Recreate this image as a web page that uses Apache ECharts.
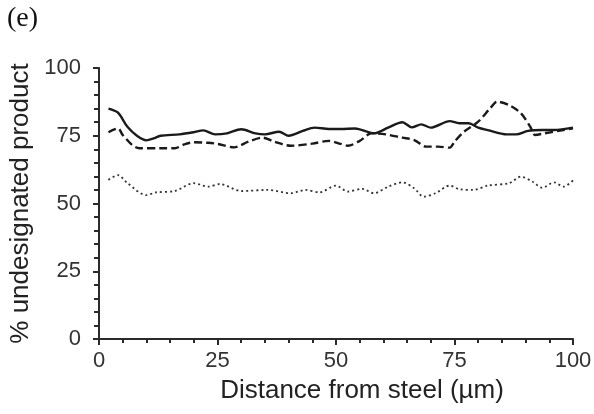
<!DOCTYPE html>
<html><head><meta charset="utf-8">
<script src="https://cdn.jsdelivr.net/npm/echarts@6/dist/echarts.min.js"></script>
<style>html,body{margin:0;padding:0;background:#fff}#c{width:594px;height:414px}</style>
</head><body><div id="c"></div>
<script>
const xTicks = [0, 25, 50, 75, 100];
const yTicks = [0, 25, 50, 75, 100];

const solidX = [2,4,6,8,10,11.5,13,17,20,22,24.5,27,30,33,35,38,40,43,45.5,48.5,51,54,58,61,64,66,68,70,74,76,78,80,82,86,88,90.5,93.5,96,100];
const solidY = [85,83.5,78.3,75,73.3,74,75,75.5,76.3,77,75.5,75.9,77.4,75.9,75.5,76.5,75,76.8,78,77.5,77.5,77.7,75.9,78,80,78.1,79.2,78,80.4,79.6,79.6,78,77.1,75.5,75.5,76.8,77.1,77.1,78];

const dashedX = [2,4,5,7,8.5,13,16,18,20,23,25,28.5,31.5,34.5,37,40.5,45,48.5,51,52.5,55,57.5,60.5,64,66.5,69,71.5,74,75,77,80,82.5,84,86.5,89,91,92,94,97,100];
const dashedY = [76.3,77.7,75.3,71.6,70.4,70.4,70.4,71.8,72.6,72.4,72,70.7,72.8,74.3,72.8,71.3,72.1,73.1,72,71.3,73.1,75.9,75.5,74.3,73.4,71,71,70.6,72.8,76.5,80.2,85.1,87.6,86.3,83.3,78.3,75.3,75.9,76.8,77.7];

const dottedX = [2,4,6,10,12,16,20,23,25.5,30,35.5,40.5,43.5,46.5,50,52.5,55.5,58,61,64,66.5,68.5,71,74,76,79,82,86.5,89,91.5,93.5,96,98,100];
const dottedY = [58.7,60.5,57.5,53.1,54.1,54.6,57.5,56.2,57.2,54.6,55,53.8,55,54.1,56.6,54.4,55.4,53.8,56.2,57.8,55.6,52.5,53.8,56.6,55.3,55,56.6,57.5,59.9,58,55.8,57.8,56.2,58.5];

const pairs = (xs, ys) => xs.map((x, i) => [x, ys[i]]);
const font = '"Liberation Sans", Arial, sans-serif';
const axisCol = '#2a2a2a';
const lineCol = '#1a1a1a';

const chart = echarts.init(document.getElementById('c'), null, {renderer: 'canvas'});
chart.setOption({
  backgroundColor: '#fff',
  animation: false,
  grid: {left: 99, right: 21, top: 68, bottom: 75, containLabel: false, outerBoundsMode: 'none'},
  graphic: [{type: 'text', left: 7, top: 5, style: {text: '(e)', fontSize: 28, fontFamily: '"Liberation Serif", "Times New Roman", serif', fill: '#111'}}],
  xAxis: {
    type: 'value', min: xTicks[0], max: xTicks[xTicks.length - 1], interval: 25,
    name: 'Distance from steel (µm)', nameLocation: 'middle', nameGap: 39,
    nameTextStyle: {fontFamily: font, fontSize: 26, color: '#222', padding: [0, 0, 0, 52]},
    axisLine: {show: true, onZero: false, lineStyle: {color: axisCol, width: 2}},
    axisTick: {show: true, length: 6, lineStyle: {color: axisCol, width: 2}},
    minorTick: {show: true, splitNumber: 5, length: 4, lineStyle: {color: axisCol, width: 2}},
    axisLabel: {fontFamily: font, fontSize: 22, color: '#333', margin: 11, formatter: v => xTicks.includes(v) ? String(v) : ''},
    splitLine: {show: false}
  },
  yAxis: {
    type: 'value', min: yTicks[0], max: yTicks[yTicks.length - 1], interval: 25,
    name: '% undesignated product', nameLocation: 'middle', nameGap: 55, nameRotate: 90,
    nameTextStyle: {fontFamily: font, fontSize: 26, color: '#222'},
    axisLine: {show: true, onZero: false, lineStyle: {color: axisCol, width: 2}},
    axisTick: {show: true, length: 6, lineStyle: {color: axisCol, width: 2}},
    minorTick: {show: true, splitNumber: 5, length: 5, lineStyle: {color: axisCol, width: 2}},
    axisLabel: {fontFamily: font, fontSize: 22, color: '#333', margin: 18, formatter: v => yTicks.includes(v) ? String(v) : ''},
    splitLine: {show: false}
  },
  series: [
    {type: 'line', data: pairs(solidX, solidY), showSymbol: false, smooth: 0.3, lineStyle: {color: lineCol, width: 2.4, type: 'solid'}},
    {type: 'line', data: pairs(dashedX, dashedY), showSymbol: false, smooth: 0.3, lineStyle: {color: lineCol, width: 2.4, type: [8, 4]}},
    {type: 'line', data: pairs(dottedX, dottedY), showSymbol: false, smooth: 0.3, lineStyle: {color: '#333', width: 1.8, type: [2, 3]}}
  ]
});
</script>
</body></html>
